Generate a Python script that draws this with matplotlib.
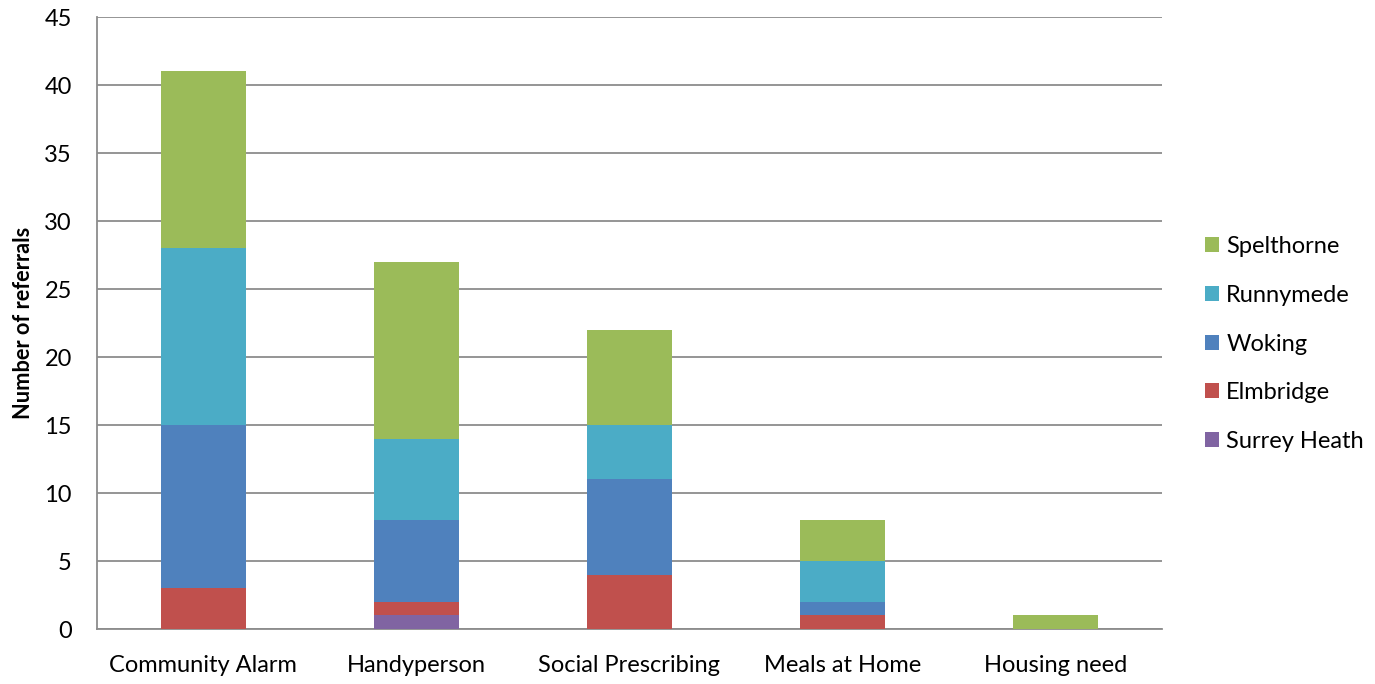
import matplotlib
matplotlib.use("Agg")
from matplotlib import pyplot as plt
import numpy as np

plt.rcParams['font.family'] = ['Lato', 'DejaVu Sans']

categories = ["Community Alarm", "Handyperson", "Social Prescribing", "Meals at Home", "Housing need"]

# stacked from bottom to top
surrey_heath = [0, 1, 0, 0, 0]
elmbridge = [3, 1, 4, 1, 0]
woking = [12, 6, 7, 1, 0]
runnymede = [13, 6, 4, 3, 0]
spelthorne = [13, 13, 7, 3, 1]

series = [
    ("Surrey Heath", surrey_heath, "#8064a2"),
    ("Elmbridge", elmbridge, "#c0504d"),
    ("Woking", woking, "#4f81bd"),
    ("Runnymede", runnymede, "#4bacc6"),
    ("Spelthorne", spelthorne, "#9bbb59"),
]

fig = plt.figure(figsize=(13.75, 6.84), dpi=100)
ax = fig.add_axes([0.0705, 0.0804, 0.7745, 0.8946])

x = np.arange(len(categories))
bottom = np.zeros(len(categories))
handles = []
for name, vals, col in series:
    vals = np.array(vals, dtype=float)
    b = ax.bar(x, vals, width=0.4, bottom=bottom, color=col, label=name, zorder=3)
    handles.append(b)
    bottom += vals

ax.set_xlim(-0.5, len(categories) - 0.5)
ax.set_ylim(0, 45)
ax.set_yticks(range(0, 46, 5))
ax.set_xticks(x)
ax.set_xticklabels(categories)
ax.tick_params(axis='both', length=0, labelsize=17, colors='black')
ax.tick_params(axis='x', pad=19)
ax.tick_params(axis='y', pad=18)
ax.yaxis.grid(True, color='#8c8c8c', lw=1.3, zorder=0)
for side in ['top', 'right']:
    ax.spines[side].set_visible(False)
ax.spines['left'].set_color('#8c8c8c')
ax.spines['left'].set_linewidth(1.3)
ax.spines['bottom'].set_color('#8c8c8c')
ax.spines['bottom'].set_linewidth(1.3)
ax.set_ylabel("Number of referrals", fontsize=15.7, fontweight='bold')
ax.yaxis.set_label_coords(-0.059, 0.5)

leg = fig.legend(handles[::-1], [s[0] for s in series][::-1], loc='center left',
                 bbox_to_anchor=(0.861, 0.497), frameon=False, fontsize=17,
                 handlelength=0.6, handleheight=0.6, handletextpad=0.3, labelspacing=1.17)

fig.savefig("out.png", dpi=100)
